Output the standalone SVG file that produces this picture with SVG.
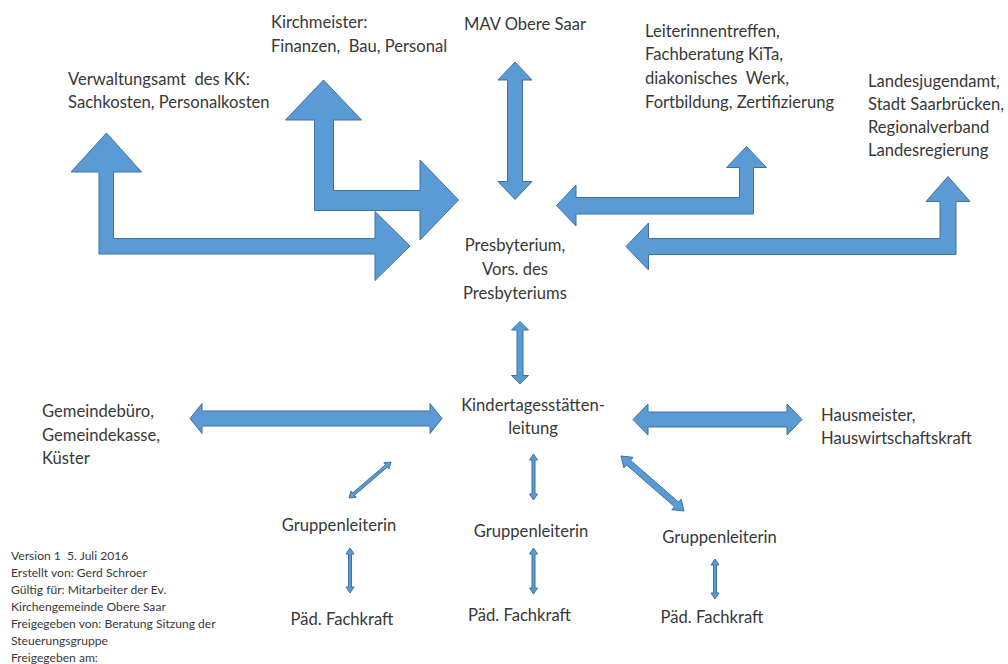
<svg xmlns="http://www.w3.org/2000/svg" width="1008" height="664" viewBox="0 0 1008 664">
<style>
.t{font-family:Lato,"Liberation Sans",sans-serif;font-size:16.6px;fill:#383838}
.c{text-anchor:middle}
.s{font-family:Lato,"Liberation Sans",sans-serif;font-size:12.1px;fill:#383838}
.a{fill:#5B9BD5;stroke:#41719C;stroke-width:1;stroke-linejoin:miter}
</style>
<rect width="1008" height="664" fill="#fff"/>
<g id="connectors">
<polygon class="a" points="106.5,133 141.5,172 113.5,172 113.5,238.5 375,238.5 375,211.5 410,246 375,280.5 375,254 99,254 99,172 71,172"/>
<polygon class="a" points="323.5,80 361.5,120 333.5,120 333.5,190.5 420,190.5 420,160 458.5,200 420,240 420,210.5 314.5,210.5 314.5,120 285.5,120"/>
<polygon class="a" points="515,62 532,80 522.5,80 522.5,181.5 532,181.5 515,199.5 498,181.5 507.5,181.5 507.5,80 498,80"/>
<polygon class="a" points="746.5,146.5 766.5,167.5 753.5,167.5 753.5,214 576,214 576,226 556.5,205.5 576,185 576,197.5 739.5,197.5 739.5,167.5 726.5,167.5"/>
<polygon class="a" points="948,176.5 970,201.5 956,201.5 956,254.5 648.5,254.5 648.5,270 626,246.5 648.5,223 648.5,238.5 940,238.5 940,201.5 926,201.5"/>
<polygon class="a" points="520,321.5 528.5,330 523,330 523,375.5 528.5,375.5 520,384 511.5,375.5 517,375.5 517,330 511.5,330"/>
<polygon class="a" points="190,418.5 202,403.5 202,411 430,411 430,403.5 442,418.5 430,433.5 430,426 202,426 202,433.5"/>
<polygon class="a" points="633,419.5 648,404 648,412 787,412 787,404 802,419.5 787,435 787,427 648,427 648,435"/>
<polygon class="a" points="391,462 389.05,468.94 387.42,467.04 354.53,495.23 356.16,497.13 349,498 350.95,491.06 352.58,492.96 385.47,464.77 383.84,462.87"/>
<polygon class="a" points="533.5,454 537.5,460 535,460 535,494 537.5,494 533.5,500 529.5,494 532,494 532,460 529.5,460"/>
<polygon class="a" points="621,456 633.1,457.3 630.5,460.3 678.5,502.1 681.1,499.1 684,511 671.9,509.7 674.5,506.7 626.5,464.9 623.9,467.9"/>
<polygon class="a" points="350,548 354,554 351.5,554 351.5,587 354,587 350,593 346,587 348.5,587 348.5,554 346,554"/>
<polygon class="a" points="533.5,548 537.5,554 535,554 535,588 537.5,588 533.5,594 529.5,588 532,588 532,554 529.5,554"/>
<polygon class="a" points="715,559 719,565 716.5,565 716.5,593 719,593 715,599 711,593 713.5,593 713.5,565 711,565"/>
</g>
<g id="verwaltungsamt"><text class="t" x="68" y="85" xml:space="preserve">Verwaltungsamt  des KK:</text><text class="t" x="68" y="108">Sachkosten, Personalkosten</text></g>
<g id="kirchmeister"><text class="t" x="271" y="28">Kirchmeister:</text><text class="t" x="271" y="52" xml:space="preserve">Finanzen,  Bau, Personal</text></g>
<g id="mav"><text class="t" x="464" y="30">MAV Obere Saar</text></g>
<g id="leiterinnentreffen"><text class="t" x="645" y="37">Leiterinnentreffen,</text><text class="t" x="645" y="60">Fachberatung KiTa,</text><text class="t" x="645" y="84" xml:space="preserve">diakonisches  Werk,</text><text class="t" x="645" y="108">Fortbildung, Zertifizierung</text></g>
<g id="landesjugendamt"><text class="t" x="868" y="87">Landesjugendamt,</text><text class="t" x="868" y="110">Stadt Saarbrücken,</text><text class="t" x="868" y="133">Regionalverband</text><text class="t" x="868" y="156">Landesregierung</text></g>
<g id="presbyterium"><text class="t c" x="515" y="251">Presbyterium,</text><text class="t c" x="515" y="275">Vors. des</text><text class="t c" x="515" y="299">Presbyteriums</text></g>
<g id="kita-leitung"><text class="t c" x="533" y="411">Kindertagesstätten-</text><text class="t c" x="533" y="434">leitung</text></g>
<g id="gemeindebuero"><text class="t" x="42" y="417">Gemeindebüro,</text><text class="t" x="42" y="441">Gemeindekasse,</text><text class="t" x="42" y="464">Küster</text></g>
<g id="hausmeister"><text class="t" x="821" y="421">Hausmeister,</text><text class="t" x="821" y="444">Hauswirtschaftskraft</text></g>
<g id="gruppe1"><text class="t c" x="339" y="531">Gruppenleiterin</text></g>
<g id="gruppe2"><text class="t c" x="531" y="537">Gruppenleiterin</text></g>
<g id="gruppe3"><text class="t c" x="719.5" y="543">Gruppenleiterin</text></g>
<g id="fachkraft1"><text class="t c" x="342" y="625">Päd. Fachkraft</text></g>
<g id="fachkraft2"><text class="t c" x="519.5" y="621">Päd. Fachkraft</text></g>
<g id="fachkraft3"><text class="t c" x="712" y="623">Päd. Fachkraft</text></g>
<g id="info"><text class="s" x="11" y="560" xml:space="preserve">Version 1  5. Juli 2016</text><text class="s" x="11" y="577">Erstellt von: Gerd Schroer</text><text class="s" x="11" y="594">Gültig für: Mitarbeiter der Ev.</text><text class="s" x="11" y="611">Kirchengemeinde Obere Saar</text><text class="s" x="11" y="628">Freigegeben von: Beratung Sitzung der</text><text class="s" x="11" y="645">Steuerungsgruppe</text><text class="s" x="11" y="662">Freigegeben am:</text></g>
</svg>
